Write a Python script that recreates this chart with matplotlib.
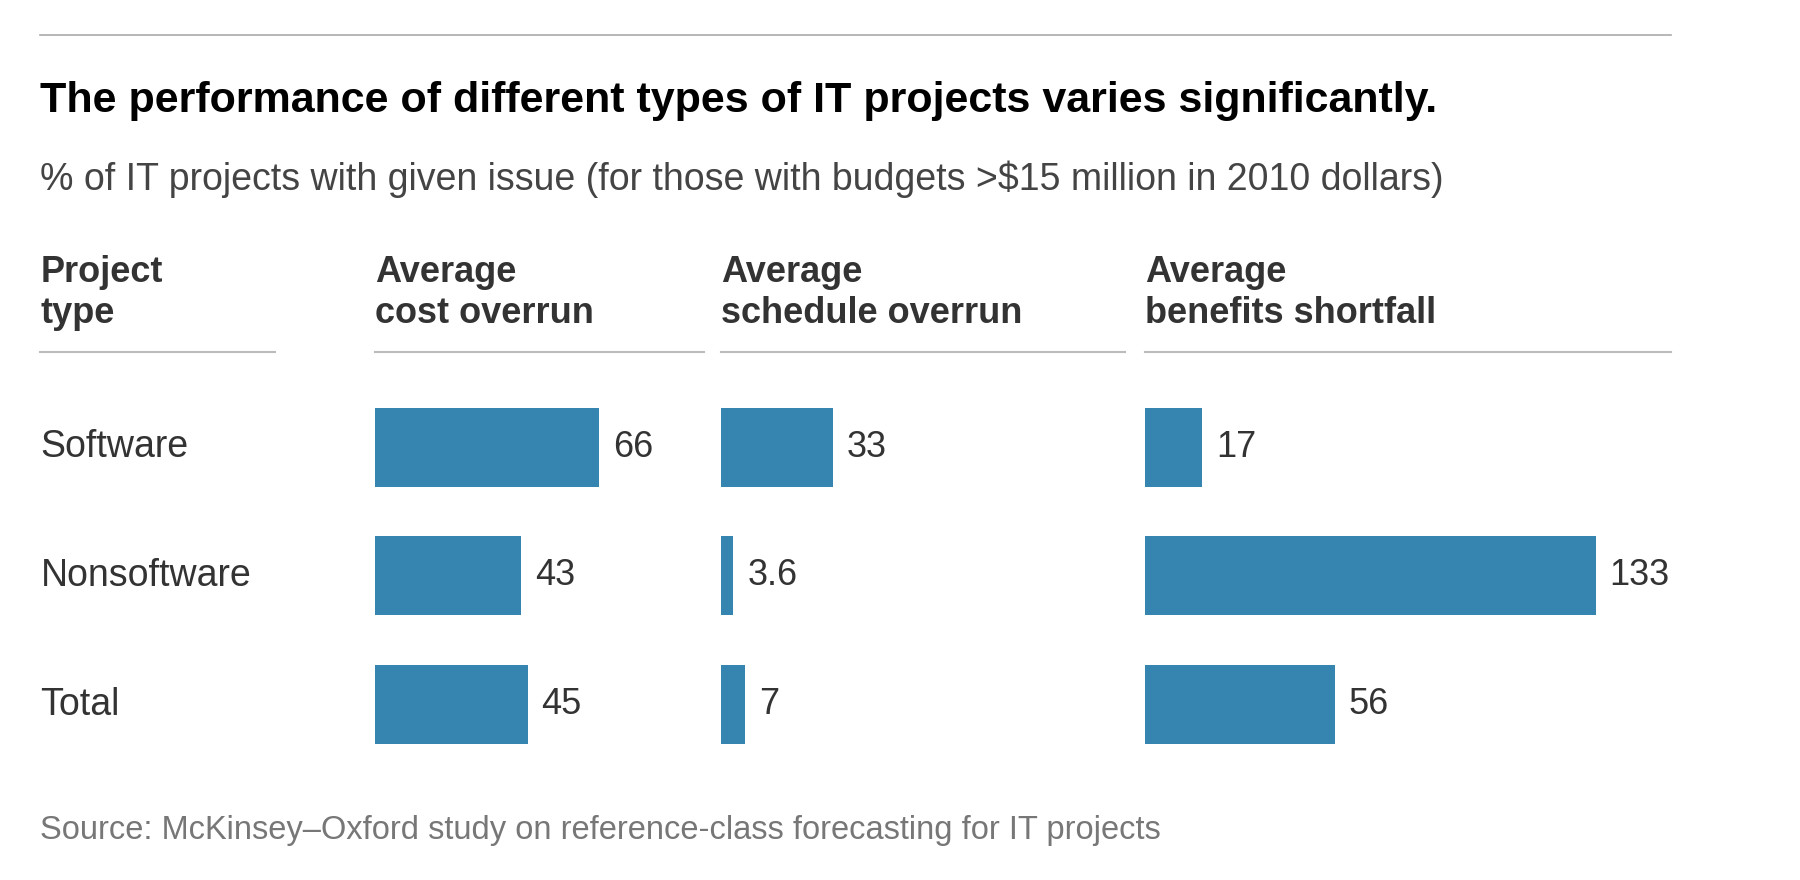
import matplotlib.pyplot as plt

plt.rcParams['font.family'] = ['Liberation Sans', 'DejaVu Sans']

rows = ['Software', 'Nonsoftware', 'Total']
cost = [66, 43, 45]
schedule = [33, 3.6, 7]
benefits = [17, 133, 56]
value_labels = {'cost': ['66', '43', '45'], 'schedule': ['33', '3.6', '7'], 'benefits': ['17', '133', '56']}

W, H = 1560.0, 763.0
def fx(x): return x / W
def fy(y): return 1 - y / H

fig = plt.figure(figsize=(18, 8.8), dpi=100, facecolor='white')
blue = '#3585b0'

# top rule
fig.add_artist(plt.Line2D([fx(35), fx(1448)], [fy(30), fy(30)], color='#aaaaaa', lw=1.2))
fig.text(fx(35), fy(88), 'The performance of different types of IT projects varies significantly.',
         fontsize=31, fontweight='bold', color='black', va='center')
fig.text(fx(35), fy(155), '% of IT projects with given issue (for those with budgets >$15 million in 2010 dollars)',
         fontsize=27, color='#444444', va='center')

# column headers
headers = [(35, 'Project\ntype', 238), (325, 'Average\ncost overrun', 610),
           (625, 'Average\nschedule overrun', 975), (992, 'Average\nbenefits shortfall', 1448)]
for x0, txt, x1 in headers:
    fig.text(fx(x0), fy(254), txt, fontsize=26, fontweight='bold', color='#333333',
             va='center', linespacing=1.2)
    fig.add_artist(plt.Line2D([fx(x0), fx(x1)], [fy(305), fy(305)], color='#bbbbbb', lw=1.5))

centers = [388, 499, 611]
for c, r in zip(centers, rows):
    fig.text(fx(35), fy(c), r, fontsize=27, color='#333333', va='center')

scale = 2.94  # px per unit
top, bot = 330, 670
panels = [(325, 280, cost, 'cost'), (625, 340, schedule, 'schedule'), (992, 540, benefits, 'benefits')]
for x0, wpx, vals, key in panels:
    ax = fig.add_axes([fx(x0), fy(bot), wpx / W, (bot - top) / H])
    ax.set_xlim(0, wpx / scale)
    ax.set_ylim(bot, top)
    ax.barh(centers, vals, height=68, color=blue)
    for c, v, lab in zip(centers, vals, value_labels[key]):
        ax.text(v + 12 / scale, c, lab, fontsize=26, color='#333333', va='center')
    ax.axis('off')

fig.text(fx(35), fy(720), 'Source: McKinsey\u2013Oxford study on reference-class forecasting for IT projects',
         fontsize=23.5, color='#777777', va='center')

fig.savefig('out.png', dpi=100)
